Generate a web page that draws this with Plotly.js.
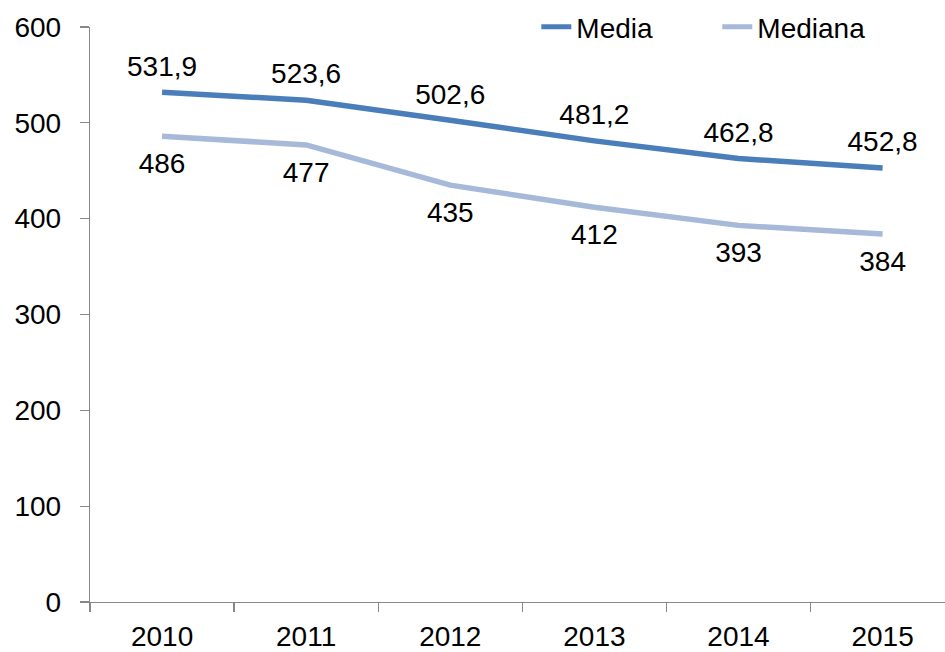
<!DOCTYPE html>
<html><head><meta charset="utf-8">
<script src="https://cdn.plot.ly/plotly-3.0.1.min.js"></script>
<style>html,body{margin:0;padding:0;background:#fff}</style>
</head><body>
<div id="chart" style="width:945px;height:652px"></div>
<script>
const years = ["2010","2011","2012","2013","2014","2015"];
const media = [531.9, 523.6, 502.6, 481.2, 462.8, 452.8];
const mediana = [486, 477, 435, 412, 393, 384];
const yTicks = [0,100,200,300,400,500,600];

const font = {family: "Liberation Sans, Arial, sans-serif", size: 28, color: "#000"};

const traces = [
  {x: years, y: media, name: "Media", type: "scatter", mode: "lines+markers+text",
   line: {color: "#4A7EBB", width: 5.5}, marker: {size: 14, color: "rgba(0,0,0,0)", line: {width: 0}},
   texttemplate: "%{y:.1f}", textposition: "top center",
   textfont: font, cliponaxis: false, hoverinfo: "skip"},
  {x: years, y: mediana, name: "Mediana", type: "scatter", mode: "lines+markers+text",
   line: {color: "#A7B9D8", width: 5.5}, marker: {size: 24, color: "rgba(0,0,0,0)", line: {width: 0}},
   texttemplate: "%{y:.0f}", textposition: "bottom center",
   textfont: font, cliponaxis: false, hoverinfo: "skip"}
];

const layout = {
  width: 945, height: 652,
  margin: {l: 90, r: 0, t: 27, b: 50, autoexpand: false},
  paper_bgcolor: "#fff", plot_bgcolor: "#fff",
  separators: ",.",
  font: font,
  showlegend: true,
  legend: {orientation: "h", x: 0.522, y: 1.0, xanchor: "left", yanchor: "middle",
    font: font, entrywidth: 136, entrywidthmode: "pixels", bgcolor: "rgba(0,0,0,0)",
    itemsizing: "constant"},
  xaxis: {type: "category", range: [-0.5, 5.433], showgrid: false, zeroline: false,
    showline: true, linecolor: "#888", linewidth: 1.3, ticks: "outside", tickson: "boundaries",
    ticklen: 9, tickcolor: "#888", tickwidth: 1.3, tickfont: font, ticklabelstandoff: 9,
    automargin: false, fixedrange: true},
  yaxis: {range: [0, 600], tickvals: yTicks, showgrid: false, zeroline: false,
    showline: true, linecolor: "#888", linewidth: 1.3, ticks: "outside", ticklen: 9,
    tickcolor: "#888", tickwidth: 1.3, tickfont: font, ticklabelstandoff: 13,
    automargin: false, fixedrange: true}
};

Plotly.newPlot("chart", traces, layout, {displayModeBar: false, staticPlot: true});
</script>
</body></html>
